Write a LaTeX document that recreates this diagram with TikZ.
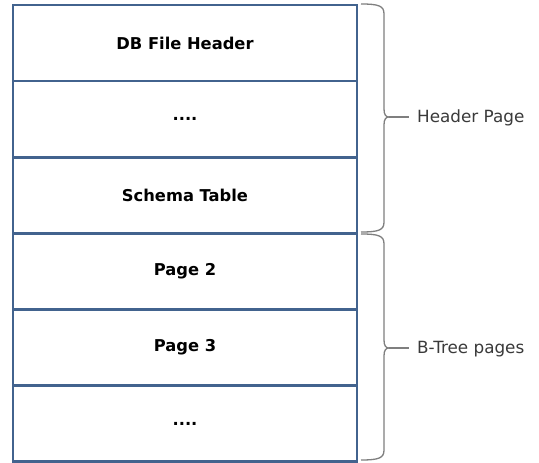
\documentclass[tikz,border=0pt]{standalone}
\usepackage{fontspec}
\setmainfont{DejaVu Sans}
\definecolor{boxblue}{HTML}{42638E}
\definecolor{bracegray}{HTML}{7F7F7F}
\definecolor{labelgray}{HTML}{3A3A3A}
\begin{document}
\begin{tikzpicture}[x=1pt,y=1pt,
  rowbox/.style={draw=boxblue,line width=2.8pt,minimum width=344pt,minimum height=76.1pt,inner sep=0pt,outer sep=0pt,
    font=\fontsize{16.3}{18}\selectfont\bfseries,text=black,anchor=north west},
  bracestyle/.style={draw=bracegray,line width=1.3pt},
  sidelabel/.style={font=\fontsize{16.8}{18}\selectfont,text=labelgray,anchor=west,inner sep=0pt}]
\useasboundingbox[fill=white] (0,0) rectangle (539,463);
\node[rowbox] (r1) at (13,458) {DB File Header};
\node[rowbox] (r2) at (r1.south west) {....};
\node[rowbox] (r3) at (r2.south west) {Schema Table};
\node[rowbox] (r4) at (r3.south west) {Page 2};
\node[rowbox] (r5) at (r4.south west) {Page 3};
\node[rowbox] (r6) at (r5.south west) {....};
% brace 1
\draw[bracestyle] (361,459) .. controls (379,459) and (384,457) .. (384,449)
  -- (384,354) .. controls (384,348) and (386,346) .. (389,346)
  .. controls (386,346) and (384,344) .. (384,338)
  -- (384,241) .. controls (384,233) and (379,231) .. (361,231);
\coordinate (t1) at (389,346);
\node[sidelabel] (l1) at (417,345) {Header Page};
\draw[bracestyle] (t1) -- (409,346);
% brace 2
\draw[bracestyle] (361,229) .. controls (379,229) and (384,227) .. (384,219)
  -- (384,123) .. controls (384,117) and (386,115) .. (389,115)
  .. controls (386,115) and (384,113) .. (384,107)
  -- (384,13) .. controls (384,5) and (379,3) .. (361,3);
\coordinate (t2) at (389,115);
\node[sidelabel] (l2) at (417,114) {B-Tree pages};
\draw[bracestyle] (t2) -- (409,115);
\end{tikzpicture}
\end{document}
